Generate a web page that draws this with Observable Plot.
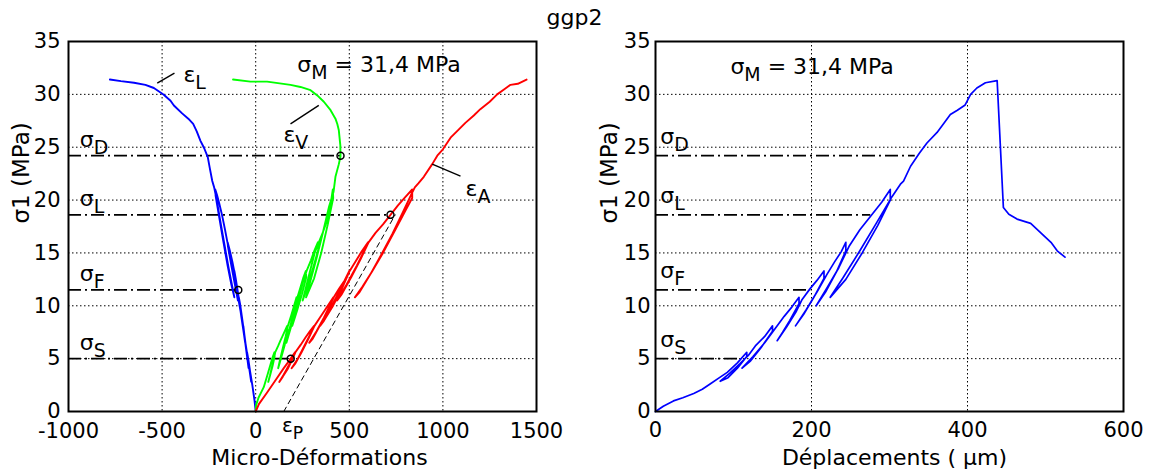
<!DOCTYPE html>
<html><head><meta charset="utf-8">
<script src="https://cdn.jsdelivr.net/npm/d3@7"></script>
<script src="https://cdn.jsdelivr.net/npm/@observablehq/plot@0.6"></script>
<style>
body{margin:0;background:#fff;}
#fig{position:relative;width:1149px;height:472px;display:flex;}
#title{position:absolute;z-index:2;top:5px;left:0;width:1149px;text-align:center;font-family:"DejaVu Sans",sans-serif;font-size:22px;line-height:26px;}
svg text{white-space:pre;}
</style></head><body>
<div id="fig"><div id="title"></div></div>
<script>
// ---- data ----
const chartTitle = "ggp2";
const xTicksStrain = [-1000, -500, 0, 500, 1000, 1500];
const xTicksDisp = [0, 200, 400, 600];
const yTicks = [0, 5, 10, 15, 20, 25, 30, 35];

const levelNames = ["σ_D", "σ_L", "σ_F", "σ_S"];
const levelValues = [24.2, 18.6, 11.5, 5.0];
const levelEndStrain = [453, 720, -93, 187];
const levelEndDisp = [333, 276, 199, 106];

// lateral strain (blue)
const epsL = [[0,0],[-6,1],[-18,2.5],[-30,3.8],[-40,5],[-46,5.6],
 [-44,5.2],[-34,4],[-24,2.8],[-30,3.7],[-40,4.8],[-47,5.6],
 [-54,6.4],[-60,7.2],[-66,8.1],
 [-64,7.7],[-55,6.4],[-46,5.2],[-38,4.1],[-44,4.9],[-53,6.2],[-61,7.3],[-67,8.1],
 [-74,9],[-82,10],[-90,10.8],
 [-88,10.4],[-77,9],[-66,7.7],[-56,6.5],[-63,7.4],[-73,8.7],[-83,10],[-91,10.8],
 [-98,11.6],[-106,12.5],[-114,13.3],
 [-112,12.9],[-98,11.2],[-82,9.6],[-67,8.1],[-76,9.2],[-90,10.7],[-103,12.1],[-115,13.3],
 [-125,14.2],[-138,15.2],[-150,16],
 [-148,15.6],[-130,13.8],[-112,12.1],[-95,10.5],[-106,11.6],[-122,13.3],[-138,14.9],[-151,16],
 [-165,17.3],[-180,18.6],[-195,19.7],[-207,20.5],[-216,21],
 [-214,20.4],[-195,18.4],[-172,16],[-150,13.8],[-130,12],[-114,10.8],[-125,11.8],[-145,13.6],[-168,15.9],[-190,18.1],[-208,20],[-222,21.2],
 [-232,21.8],[-245,23],[-256,24.06],[-275,24.9],[-295,25.6],[-315,26.5],[-334,27.2],[-360,27.7],[-393,28.2],[-437,28.95],[-455,29.4],[-491,29.96],[-544,30.6],[-589,30.9],[-650,31.1],[-720,31.25],[-779,31.4]];

// volumetric strain (green)
const epsV = [[0,0],[2,0.6],[15,1.3],[43,2.3],[65,3.6],[88,5],[100,5.6],
 [101,5.2],[90,4.3],[78,3.5],[67,2.8],[76,3.4],[88,4.3],[99,5.1],[104,5.6],
 [120,6.2],[132,6.7],[150,7.4],[168,8.1],
 [170,7.6],[155,6.3],[138,5.2],[120,4.1],[130,4.9],[145,6],[160,7.1],[172,8.1],
 [190,9.1],[205,10],[218,10.8],
 [220,10.2],[200,8.7],[182,7.6],[164,6.5],[175,7.4],[192,8.6],[208,9.8],[223,10.8],
 [240,11.8],[255,12.7],[268,13.3],
 [270,12.7],[247,11.1],[222,9.6],[195,8.1],[210,9.2],[232,10.8],[252,12.2],[272,13.3],
 [295,14.3],[315,15.3],[332,16],
 [334,15.3],[307,13.6],[280,12],[251,10.5],[268,11.7],[292,13.4],[315,15],[337,16],
 [360,17],[382,18.1],[400,19.6],[412,21],
 [414,20.2],[385,17.7],[350,15],[312,12.6],[269,10.8],[290,12.2],[325,14.5],[360,17],[392,19.4],[416,20.8],
 [426,22.2],[444,23.4],[453,24.15],[452,25.2],[444,26.6],[436,27.2],[426,27.7],[400,28.5],[364,29.3],[329,29.9],[293,30.4],[239,30.7],[186,30.9],[61,31.2],[-28,31.2],[-121,31.4]];

// axial strain (red)
const epsA = [[0,0],[17,0.7],[61,1.8],[115,3.2],[150,4.1],[187,5],[210,5.6],
 [198,5],[170,4],[145,3.3],[126,2.8],[150,3.5],[178,4.4],[200,5.1],[212,5.6],
 [240,6.3],[266,7],[290,7.6],[312,8.1],
 [300,7.6],[265,6.4],[225,5],[192,4.1],[210,4.5],[245,5.6],[282,6.9],[314,8.1],
 [340,8.8],[370,9.6],[400,10.4],[415,10.8],
 [403,10.3],[365,8.9],[325,7.6],[286,6.5],[305,6.9],[345,8.2],[385,9.6],[417,10.8],
 [445,11.6],[475,12.4],[500,13.3],
 [488,12.8],[445,11.3],[395,9.6],[344,8.1],[365,8.6],[410,9.9],[460,11.6],[502,13.3],
 [530,14.1],[565,15.1],[600,16],
 [588,15.5],[540,13.8],[485,12],[435,10.5],[460,11.1],[510,12.7],[560,14.4],[603,16],
 [640,16.9],[680,17.7],[720,18.6],[760,19.5],[800,20.3],[836,21],
 [836,20.2],[800,19],[740,17],[680,15],[620,13.2],[570,11.8],[530,10.8],[555,11.3],[610,12.9],[670,14.8],[730,16.8],[785,18.8],[830,20.5],[850,21.2],
 [870,21.6],[898,22.2],[943,23.4],[970,24.2],[1000,24.8],[1041,25.9],[1080,26.6],[1120,27.3],[1165,28],[1200,28.6],[1250,29.3],[1290,30],[1330,30.5],[1361,30.9],[1400,31],[1447,31.4]];

// plastic-strain construction line (dashed)
const plasticLine = [[150,0],[745,18.6]];

// stress vs displacement (right panel)
const dispCurve = [[0,0],[10,0.5],[23,1.0],[35,1.3],[49,1.7],[60,2.1],[70,2.6],[82,3.2],[92,3.7],[105,4.6],[117,5.6],
 [117,5.2],[105,4.1],[93,3.2],[83,2.86],[95,3.6],[108,4.5],[119,5.3],
 [128,6.2],[140,7.1],[150,8.1],
 [150,7.6],[135,6.0],[122,4.8],[111,4.1],[125,5.2],[140,6.5],[153,7.8],
 [165,9.0],[175,9.9],[184,10.8],
 [184,10.2],[172,8.6],[163,7.5],[156,6.7],[168,8.0],[180,9.4],[188,10.6],
 [198,11.6],[207,12.4],[216,13.3],
 [216,12.6],[203,10.8],[190,9.2],[179.5,8.1],[193,9.6],[207,11.3],[220,13.0],
 [230,14.2],[238,15.1],[244,16.0],
 [244,15.2],[232,13.2],[218,11.3],[206,10.0],[220,11.7],[235,13.6],[248,15.6],
 [262,17.2],[276,18.5],[290,19.8],[301,21.0],
 [301,20.0],[285,17.6],[265,15.0],[244,12.5],[224,10.8],[240,12.6],[262,15.2],[283,17.8],[303,20.3],
 [314,21.5],[318,21.8],[327,23.2],[338,24.4],[348,25.4],[361,26.4],[370,27.3],[378,28.1],[387,28.5],[397,29.0],[404,30.0],[412,30.6],[423,31.1],[438,31.3],
 [446,19.3],[453,18.65],[463.5,18.2],[481,17.8],[494,16.9],[507,16.0],[515,15.2],[525,14.6]];

const strainLabels = ["ε_L", "ε_V", "ε_A"];
const strainLabelX = [-386, 148, 1121];
const strainLabelY = [31.15, 25.45, 20.43];
const leaderX1 = [-526, 186, 943];
const leaderY1 = [31.06, 27.2, 23.4];
const leaderX2 = [-434, 337, 1094];
const leaderY2 = [32.0, 28.95, 22.26];
const peakLabel = "σ_M = 31,4 MPa";
const peakLabelStrainPos = [222, 32.07];
const peakLabelDispPos = [96, 31.9];
const plasticLabel = "ε_P";
const plasticLabelX = 140;
const yLabel = "σ1 (MPa)";
const xLabelStrain = "Micro-Déformations";
const xLabelDisp = "Déplacements ( µm)";

// ---- build ----
document.getElementById("title").textContent = chartTitle;
const levels = levelNames.map((name, i) => ({name, y: levelValues[i], endS: levelEndStrain[i], endD: levelEndDisp[i]}));
const leaders = strainLabels.map((t, i) => ({x1: leaderX1[i], y1: leaderY1[i], x2: leaderX2[i], y2: leaderY2[i]}));
const labels = strainLabels.map((t, i) => ({t, x: strainLabelX[i], y: strainLabelY[i]}));
const px = d => d[0], py = d => d[1];
const FONT = "'DejaVu Sans', sans-serif";
const gridStyle = {stroke: "black", strokeOpacity: 1, strokeWidth: 1, strokeDasharray: "1.5,2.5"};
const dashDot = {stroke: "black", strokeWidth: 1.7, strokeDasharray: "13,4,2,4"};

function addSubscripts(svg) {
  const ns = "http://www.w3.org/2000/svg";
  svg.querySelectorAll("text").forEach(t => {
    if (t.querySelector("tspan")) return;
    const m = t.textContent.match(/^(.*?)_(\S)(.*)$/);
    if (!m) return;
    t.textContent = "";
    const a = document.createElementNS(ns, "tspan"); a.textContent = m[1]; t.appendChild(a);
    const b = document.createElementNS(ns, "tspan"); b.textContent = m[2];
    b.setAttribute("dy", "7"); b.setAttribute("font-size", "0.86em"); t.appendChild(b);
    if (m[3]) { const c = document.createElementNS(ns, "tspan"); c.textContent = m[3]; c.setAttribute("dy", "-7"); t.appendChild(c); }
  });
}

const left = Plot.plot({
  width: 574, height: 472, marginLeft: 68, marginRight: 38, marginTop: 41, marginBottom: 61,
  style: {fontFamily: FONT, fontSize: "21px", background: "transparent", color: "black", overflow: "visible"},
  x: {domain: [-1000, 1500]},
  y: {domain: [0, 35]},
  marks: [
    Plot.gridX({ticks: xTicksStrain, ...gridStyle}),
    Plot.gridY({ticks: yTicks, ...gridStyle}),
    Plot.axisX({ticks: xTicksStrain, tickSize: 0, tickPadding: 12, tickFormat: d => String(d), label: null, fontSize: 21}),
    Plot.axisY({ticks: yTicks, tickSize: 0, tickPadding: 8, dy: 0, tickFormat: d => String(d), label: null, fontSize: 21}),
    Plot.ruleY(levels, {y: "y", x1: -1000, x2: "endS", ...dashDot}),
    Plot.line(plasticLine, {x: px, y: py, stroke: "black", strokeWidth: 1, strokeDasharray: "5,4"}),
    Plot.line(epsL, {x: px, y: py, stroke: "#0000ff", strokeWidth: 1.9}),
    Plot.line(epsV, {x: px, y: py, stroke: "#00ff00", strokeWidth: 1.9}),
    Plot.line(epsA, {x: px, y: py, stroke: "#ff0000", strokeWidth: 1.9}),
    Plot.dot(levels, {x: "endS", y: "y", r: 3.5, stroke: "black", strokeWidth: 1.5, fill: "none"}),
    Plot.link(leaders, {x1: "x1", y1: "y1", x2: "x2", y2: "y2", stroke: "black", strokeWidth: 1.4}),
    Plot.text(levels, {x: -940, y: "y", text: "name", textAnchor: "start", lineAnchor: "bottom", dy: -9, fontSize: 22}),
    Plot.text(labels, {x: "x", y: "y", text: "t", textAnchor: "start", lineAnchor: "bottom", fontSize: 22}),
    Plot.text([peakLabel], {x: peakLabelStrainPos[0], y: peakLabelStrainPos[1], textAnchor: "start", lineAnchor: "bottom", fontSize: 22}),
    Plot.text([plasticLabel], {x: plasticLabelX, y: 0, dy: 20, textAnchor: "start", lineAnchor: "bottom", fontSize: 20}),
    Plot.text([xLabelStrain], {frameAnchor: "bottom", dx: 17, dy: 53, lineAnchor: "bottom", fontSize: 22}),
    Plot.text([yLabel], {frameAnchor: "left", rotate: -90, dx: -47, dy: -3, fontSize: 23}),
    Plot.frame({stroke: "black", strokeWidth: 2})
  ]
});

const right = Plot.plot({
  width: 575, height: 472, marginLeft: 81, marginRight: 26, marginTop: 41, marginBottom: 61,
  style: {fontFamily: FONT, fontSize: "21px", background: "transparent", color: "black", overflow: "visible"},
  x: {domain: [0, 600]},
  y: {domain: [0, 35]},
  marks: [
    Plot.gridX({ticks: xTicksDisp, ...gridStyle}),
    Plot.gridY({ticks: yTicks, ...gridStyle}),
    Plot.axisX({ticks: xTicksDisp, tickSize: 0, tickPadding: 11, tickFormat: d => String(d), label: null, fontSize: 21}),
    Plot.axisY({ticks: yTicks, tickSize: 0, tickPadding: 5, dy: 0, tickFormat: d => String(d), label: null, fontSize: 21}),
    Plot.ruleY(levels, {y: "y", x1: 0, x2: "endD", ...dashDot}),
    Plot.line(dispCurve, {x: px, y: py, stroke: "#0000ff", strokeWidth: 1.7}),
    Plot.text(levels, {x: 6, y: "y", text: "name", textAnchor: "start", lineAnchor: "bottom", dy: -12, fontSize: 22}),
    Plot.text([peakLabel], {x: peakLabelDispPos[0], y: peakLabelDispPos[1], textAnchor: "start", lineAnchor: "bottom", fontSize: 22}),
    Plot.text([xLabelDisp], {frameAnchor: "bottom", dx: 5, dy: 53, lineAnchor: "bottom", fontSize: 22}),
    Plot.text([yLabel], {frameAnchor: "left", rotate: -90, dx: -46, dy: -3, fontSize: 23}),
    Plot.frame({stroke: "black", strokeWidth: 2})
  ]
});

addSubscripts(left);
addSubscripts(right);
const fig = document.getElementById("fig");
fig.appendChild(left);
fig.appendChild(right);
</script></body></html>
